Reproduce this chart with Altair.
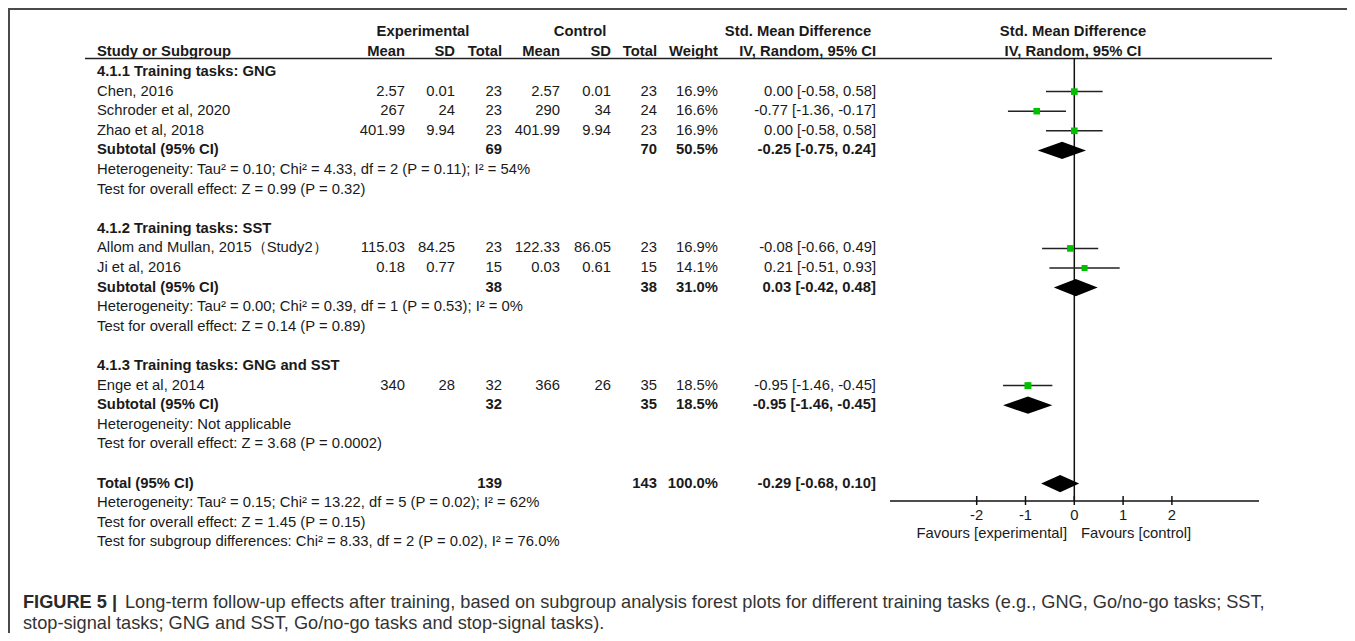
import altair as alt
import pandas as pd

# ------------------------------------------------------------------ data
study_labels = ["Chen, 2016", "Schroder et al, 2020", "Zhao et al, 2018",
                "Allom and Mullan, 2015（Study2）", "Ji et al, 2016", "Enge et al, 2014"]
study_rows = [1, 2, 3, 9, 10, 16]
exp_mean = ["2.57", "267", "401.99", "115.03", "0.18", "340"]
exp_sd = ["0.01", "24", "9.94", "84.25", "0.77", "28"]
exp_total = [23, 23, 23, 23, 15, 32]
ctl_mean = ["2.57", "290", "401.99", "122.33", "0.03", "366"]
ctl_sd = ["0.01", "34", "9.94", "86.05", "0.61", "26"]
ctl_total = [23, 24, 23, 23, 15, 35]
study_weight = [16.9, 16.6, 16.9, 16.9, 14.1, 18.5]
study_smd = [0.00, -0.77, 0.00, -0.08, 0.21, -0.95]
study_lo = [-0.58, -1.36, -0.58, -0.66, -0.51, -1.46]
study_hi = [0.58, -0.17, 0.58, 0.49, 0.93, -0.45]

group_titles = ["4.1.1 Training tasks: GNG", "4.1.2 Training tasks: SST",
                "4.1.3 Training tasks: GNG and SST"]
group_title_rows = [0, 8, 15]
subtotal_rows = [4, 11, 17]
sub_exp_total = [69, 38, 32]
sub_ctl_total = [70, 38, 35]
sub_weight = [50.5, 31.0, 18.5]
sub_smd = [-0.25, 0.03, -0.95]
sub_lo = [-0.75, -0.42, -1.46]
sub_hi = [0.24, 0.48, -0.45]
sub_het = ["Heterogeneity: Tau² = 0.10; Chi² = 4.33, df = 2 (P = 0.11); I² = 54%",
           "Heterogeneity: Tau² = 0.00; Chi² = 0.39, df = 1 (P = 0.53); I² = 0%",
           "Heterogeneity: Not applicable"]
sub_test = ["Test for overall effect: Z = 0.99 (P = 0.32)",
            "Test for overall effect: Z = 0.14 (P = 0.89)",
            "Test for overall effect: Z = 3.68 (P = 0.0002)"]
het_rows = [5, 12, 18]
test_rows = [6, 13, 19]

total_row = 21
total_exp = 139
total_ctl = 143
total_weight = 100.0
total_smd = -0.29
total_lo = -0.68
total_hi = 0.10
total_notes = ["Heterogeneity: Tau² = 0.15; Chi² = 13.22, df = 5 (P = 0.02); I² = 62%",
               "Test for overall effect: Z = 1.45 (P = 0.15)",
               "Test for subgroup differences: Chi² = 8.33, df = 2 (P = 0.02), I² = 76.0%"]
total_note_rows = [22, 23, 24]

axis_ticks = [-2, -1, 0, 1, 2]

caption_bold = "FIGURE 5 |"
caption_line1 = ("Long-term follow-up effects after training, based on subgroup analysis forest plots "
                 "for different training tasks (e.g., GNG, Go/no-go tasks; SST,")
caption_line2 = "stop-signal tasks; GNG and SST, Go/no-go tasks and stop-signal tasks)."

# ------------------------------------------------------------------ layout helpers
W, H = 1339, 625
OFF = 8  # page margin


def px(v):
    return v - OFF


FONT = "Liberation Sans"
FS = 14.8
TXT = "#1a1a1a"
ROW0, ROWH, NROWS = 72, 19.6, 25

yscale = alt.Scale(domain=[0, NROWS], range=[px(ROW0), px(ROW0 + NROWS * ROWH)],
                   nice=False, zero=False)
ZERO_X, UNIT = 1074.3, 48.8
xscale = alt.Scale(domain=[-2, 2], range=[px(ZERO_X - 2 * UNIT), px(ZERO_X + 2 * UNIT)],
                   nice=False, zero=False)


def ci_text(e, l, h):
    return f"{e:.2f} [{l:.2f}, {h:.2f}]"


# ------------------------------------------------------------------ table cells
cells = []


def add(row, col, text, bold):
    cells.append({"row": row, "col": col, "text": str(text), "bold": bold})


for i in range(len(study_labels)):
    r = study_rows[i]
    add(r, "label", study_labels[i], False)
    add(r, "em", exp_mean[i], False)
    add(r, "es", exp_sd[i], False)
    add(r, "en", exp_total[i], False)
    add(r, "cm", ctl_mean[i], False)
    add(r, "cs", ctl_sd[i], False)
    add(r, "cn", ctl_total[i], False)
    add(r, "w", f"{study_weight[i]:.1f}%", False)
    add(r, "ci", ci_text(study_smd[i], study_lo[i], study_hi[i]), False)

for g in range(len(group_titles)):
    add(group_title_rows[g], "label", group_titles[g], True)
    r = subtotal_rows[g]
    add(r, "label", "Subtotal (95% CI)", True)
    add(r, "en", sub_exp_total[g], True)
    add(r, "cn", sub_ctl_total[g], True)
    add(r, "w", f"{sub_weight[g]:.1f}%", True)
    add(r, "ci", ci_text(sub_smd[g], sub_lo[g], sub_hi[g]), True)
    add(het_rows[g], "label", sub_het[g], False)
    add(test_rows[g], "label", sub_test[g], False)

add(total_row, "label", "Total (95% CI)", True)
add(total_row, "en", total_exp, True)
add(total_row, "cn", total_ctl, True)
add(total_row, "w", f"{total_weight:.1f}%", True)
add(total_row, "ci", ci_text(total_smd, total_lo, total_hi), True)
for t, r in zip(total_notes, total_note_rows):
    add(r, "label", t, False)

cells_df = pd.DataFrame(cells)

columns = [("label", 97, "left"), ("em", 405, "right"), ("es", 455, "right"),
           ("en", 502, "right"), ("cm", 560, "right"), ("cs", 611, "right"),
           ("cn", 657, "right"), ("w", 718, "right"), ("ci", 876, "right")]

layers = []
for name, xpos, align in columns:
    for bold in (False, True):
        sub = cells_df[(cells_df.col == name) & (cells_df.bold == bold)]
        if len(sub) == 0:
            continue
        layers.append(
            alt.Chart(sub).mark_text(align=align, baseline="middle", font=FONT, fontSize=FS,
                                     fontWeight="bold" if bold else "normal", color=TXT)
            .encode(x=alt.value(px(xpos)),
                    y=alt.Y("row:Q", scale=yscale, axis=None),
                    text="text:N"))


def label(text, x, y, align="center", bold=True, size=FS, color=TXT):
    return (alt.Chart(pd.DataFrame({"t": [text]}))
            .mark_text(align=align, baseline="middle", font=FONT, fontSize=size,
                       fontWeight="bold" if bold else "normal", color=color)
            .encode(x=alt.value(px(x)), y=alt.value(px(y)), text="t:N"))


# headers
layers += [
    label("Experimental", 423, 32),
    label("Control", 580, 32),
    label("Std. Mean Difference", 798, 32),
    label("Std. Mean Difference", 1073, 32),
    label("Study or Subgroup", 97, 52, "left"),
    label("Mean", 405, 52, "right"),
    label("SD", 455, 52, "right"),
    label("Total", 502, 52, "right"),
    label("Mean", 560, 52, "right"),
    label("SD", 611, 52, "right"),
    label("Total", 657, 52, "right"),
    label("Weight", 718, 52, "right"),
    label("IV, Random, 95% CI", 876, 52, "right"),
    label("IV, Random, 95% CI", 1073, 52, "center"),
]


def hrule(x1, x2, y, color="#111", sw=1.5):
    return (alt.Chart(pd.DataFrame({"k": [0]})).mark_rule(color=color, strokeWidth=sw)
            .encode(x=alt.value(px(x1)), x2=alt.value(px(x2)), y=alt.value(px(y))))


# frame & header line
layers.append(hrule(OFF, OFF + W, 9, "#4a4a4a", 2))
layers.append(alt.Chart(pd.DataFrame({"k": [0]})).mark_rule(color="#4a4a4a", strokeWidth=2)
              .encode(x=alt.value(1), y=alt.value(0), y2=alt.value(H)))
layers.append(hrule(85, 1272, 58.5, "#222", 1.5))

# forest plot
study_df = pd.DataFrame({"row": study_rows, "smd": study_smd, "lo": study_lo,
                         "hi": study_hi, "w": study_weight})
layers.append(alt.Chart(pd.DataFrame({"x": [0]})).mark_rule(color="#111", strokeWidth=1.5)
              .encode(x=alt.X("x:Q", scale=xscale, axis=None),
                      y=alt.value(px(58)), y2=alt.value(px(501))))
layers.append(alt.Chart(study_df).mark_rule(color="#222", strokeWidth=1.5)
              .encode(x=alt.X("lo:Q", scale=xscale, axis=None), x2="hi:Q",
                      y=alt.Y("row:Q", scale=yscale, axis=None)))
layers.append(alt.Chart(study_df).mark_square(filled=True, color="#00C000", opacity=1)
              .encode(x=alt.X("smd:Q", scale=xscale, axis=None),
                      y=alt.Y("row:Q", scale=yscale, axis=None),
                      size=alt.Size("w:Q", scale=alt.Scale(domain=[0, 20], range=[0, 52]),
                                    legend=None)))

# diamonds (subtotals + total)
HALF = 0.44
dia = []
d_rows = subtotal_rows + [total_row]
d_est = sub_smd + [total_smd]
d_lo = sub_lo + [total_lo]
d_hi = sub_hi + [total_hi]
for k in range(len(d_rows)):
    r = d_rows[k]
    dia.append({"g": k, "x": d_lo[k], "yt": r, "yb": r})
    dia.append({"g": k, "x": d_est[k], "yt": r - HALF, "yb": r + HALF})
    dia.append({"g": k, "x": d_hi[k], "yt": r, "yb": r})
layers.append(alt.Chart(pd.DataFrame(dia)).mark_area(color="black", opacity=1)
              .encode(x=alt.X("x:Q", scale=xscale, axis=None),
                      y=alt.Y("yt:Q", scale=yscale, axis=None), y2="yb:Q",
                      detail="g:N"))

# axis
layers.append(hrule(890, 1259, 501, "#111", 1.5))
tick_df = pd.DataFrame({"t": axis_ticks, "lbl": [str(t) for t in axis_ticks]})
layers.append(alt.Chart(tick_df).mark_rule(color="#111", strokeWidth=1.5)
              .encode(x=alt.X("t:Q", scale=xscale, axis=None),
                      y=alt.value(px(496)), y2=alt.value(px(505))))
layers.append(alt.Chart(tick_df).mark_text(baseline="middle", font=FONT, fontSize=FS, color=TXT)
              .encode(x=alt.X("t:Q", scale=xscale, axis=None), y=alt.value(px(516)),
                      text="lbl:N"))
layers.append(label("Favours [experimental]", 1067, 534, "right", bold=False))
layers.append(label("Favours [control]", 1081, 534, "left", bold=False))

# caption
CAP = 18.2
layers.append(label(caption_bold, 23, 603, "left", True, CAP, "#2a2a2a"))
layers.append(label(caption_line1, 125, 603, "left", False, CAP, "#333"))
layers.append(label(caption_line2, 23, 624, "left", False, CAP, "#333"))

chart = (alt.layer(*layers)
         .properties(width=W, height=H, padding=0,
                     autosize=alt.AutoSizeParams(type="none"))
         .configure_view(stroke=None))

chart.save("out.html", embed_options={"renderer": "svg", "actions": False})
